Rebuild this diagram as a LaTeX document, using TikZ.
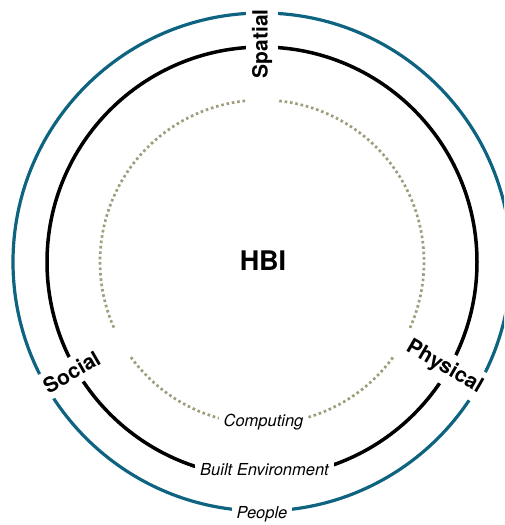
\documentclass[tikz,border=0pt]{standalone}
\usepackage{fontspec}
\setmainfont{TeX Gyre Heros}
\definecolor{tealring}{RGB}{14,100,128}
\definecolor{dotcol}{RGB}{160,157,125}
\begin{document}
\begin{tikzpicture}[x=1pt,y=1pt,
  tealstroke/.style={draw=tealring,line width=3.2pt},
  blackstroke/.style={draw=black,line width=3.5pt},
  dotstroke/.style={draw=dotcol,line width=2.7pt,dash pattern=on 2.6pt off 2.8pt},
  radlabel/.style={font=\fontsize{21}{21}\selectfont\bfseries,fill=white,inner xsep=2pt,inner ysep=6pt},
  ringlabel/.style={font=\fontsize{16.5}{16.5}\selectfont\itshape,fill=white,inner xsep=5pt,inner ysep=4pt,anchor=base}]
\useasboundingbox (0,0) rectangle (504,525);
\clip (0,0) rectangle (504,525);
\begin{scope}[shift={(262,263)}]
  \draw[tealstroke] (0,0) circle[radius=249pt];
  \draw[blackstroke] (0,0) circle[radius=215pt];
  \draw[dotstroke] (96:162pt) arc[start angle=96,end angle=204,radius=162pt];
  \draw[dotstroke] (216:162pt) arc[start angle=216,end angle=324,radius=162pt];
  \draw[dotstroke] (336:162pt) arc[start angle=336,end angle=444,radius=162pt];
  \node[radlabel,rotate=90,anchor=east] (spatial) at (90:255pt) {Spatial};
  \node[radlabel,rotate=30,anchor=west] (social) at (210:253pt) {Social};
  \node[radlabel,rotate=-30,anchor=east] (physical) at (330:255pt) {Physical};
  \node[font=\fontsize{27}{27}\selectfont\bfseries] (hbi) at (1,1) {HBI};
  \node[ringlabel] (computing) at (1.5,-165) {Computing};
  \node[ringlabel] (built) at (2.5,-214) {Built Environment};
  \node[ringlabel] (people) at (0,-257) {People};
\end{scope}
\end{tikzpicture}
\end{document}
